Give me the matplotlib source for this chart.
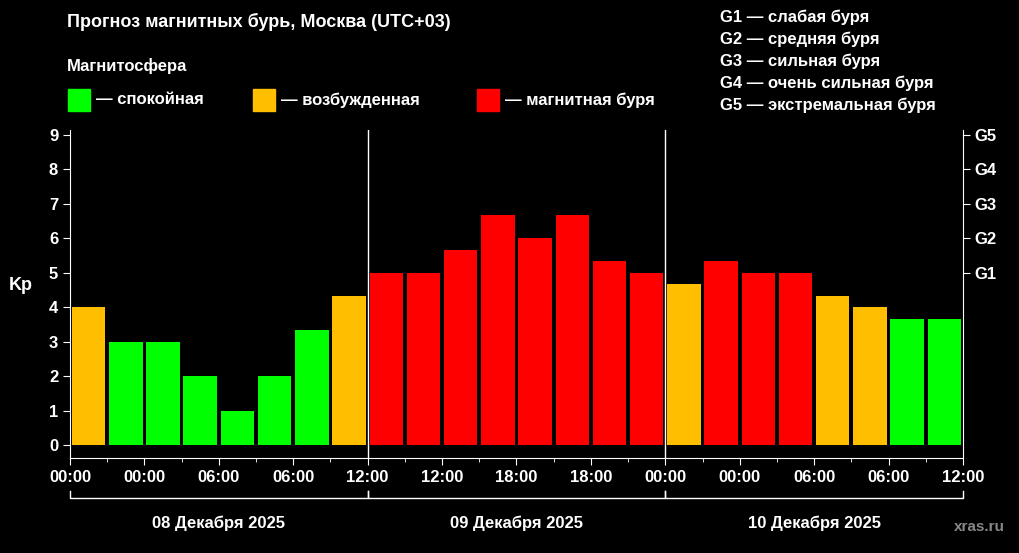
import matplotlib
matplotlib.use("Agg")
import matplotlib.pyplot as plt
import matplotlib.transforms as mt
from matplotlib.patches import Rectangle

plt.rcParams['font.family'] = ['Liberation Sans', 'DejaVu Sans']
plt.rcParams['font.weight'] = 'bold'

kp = [4, 3, 3, 2, 1, 2, 3.33, 4.33,
      5, 5, 5.67, 6.67, 6, 6.67, 5.33, 5,
      4.67, 5.33, 5, 5, 4.33, 4, 3.67, 3.67]
days = ["08 Декабря 2025", "09 Декабря 2025", "10 Декабря 2025"]
hour_labels = ["00:00", "06:00", "12:00", "18:00"]
g_labels = ["G1", "G2", "G3", "G4", "G5"]
g_desc = ["G1 — слабая буря", "G2 — средняя буря", "G3 — сильная буря",
          "G4 — очень сильная буря", "G5 — экстремальная буря"]
GREEN, ORANGE, RED = "#00ff00", "#ffbf00", "#ff0000"

def color(v):
    if v >= 5: return RED
    if v >= 4: return ORANGE
    return GREEN

fig = plt.figure(figsize=(10.2, 5.53), dpi=100, facecolor="black")
ax = fig.add_axes([0.0686, 0.1718, 0.8755, 0.593], facecolor="black")
x = [i + 0.5 for i in range(len(kp))]
ax.bar(x, kp, width=0.9, color=[color(v) for v in kp])
ax.set_xlim(0, 24)
ax.set_ylim(-0.377, 9.145)
for s in ["top"]:
    ax.spines[s].set_visible(False)
for s in ["left", "right", "bottom"]:
    ax.spines[s].set_color("white")
for d in (8, 16):
    ax.axvline(d, color="white", lw=1)
ax.set_yticks(range(10))
ax.tick_params(colors="white", labelsize=12, length=5)
ax.set_xticks(range(0, 25, 2))
ax.set_xticks(range(0, 25, 1), minor=True)
ax.tick_params(axis="x", which="minor", length=3, color="white")
ax.set_xticklabels([hour_labels[(i // 2) % 4] for i in range(13)], color="white", fontsize=12, weight="bold")
ax.set_yticklabels([str(i) for i in range(10)], color="white", fontsize=12, weight="bold")
ax2 = ax.twinx()
ax2.set_ylim(ax.get_ylim())
ax2.set_yticks([5, 6, 7, 8, 9])
ax2.set_yticklabels(g_labels, color="white", fontsize=12, weight="bold")
ax2.tick_params(colors="white", length=5)
for s in ax2.spines.values():
    s.set_visible(False)
ax.set_ylabel("Kp", color="white", fontsize=13, weight="bold", rotation=0, labelpad=20)

tr = mt.blended_transform_factory(ax.transData, ax.transAxes)
for i, d in enumerate(days):
    a, b = i * 8, (i + 1) * 8
    ax.plot([a, a, b, b], [-0.10, -0.122, -0.122, -0.10], color="white", lw=1,
            transform=tr, clip_on=False)
    ax.text((a + b) / 2, -0.2, d, color="white", fontsize=12, weight="bold",
            ha="center", va="center", transform=tr)

fig.text(67/1020, 1-22/553, "Прогноз магнитных бурь, Москва (UTC+03)", color="white",
         fontsize=13, weight="bold", va="center")
fig.text(67/1020, 1-66/553, "Магнитосфера", color="white", fontsize=12, weight="bold", va="center")
for xs, c, t in [(68, GREEN, "— спокойная"), (253, ORANGE, "— возбужденная"), (477, RED, "— магнитная буря")]:
    fig.patches.append(Rectangle((xs/1020, 1-111/553), 22/1020, 22/553, color=c, transform=fig.transFigure))
    fig.text((xs+28)/1020, 1-100/553, t, color="white", fontsize=12, weight="bold", va="center")
for i, t in enumerate(g_desc):
    fig.text(720/1020, 1-(17 + 22*i)/553, t, color="white", fontsize=12, weight="bold", va="center")
fig.text(1005/1020, 1-527/553, "xras.ru", color="#888888", fontsize=11, ha="right", va="center")

fig.savefig("out.png", dpi=100, facecolor="black")
